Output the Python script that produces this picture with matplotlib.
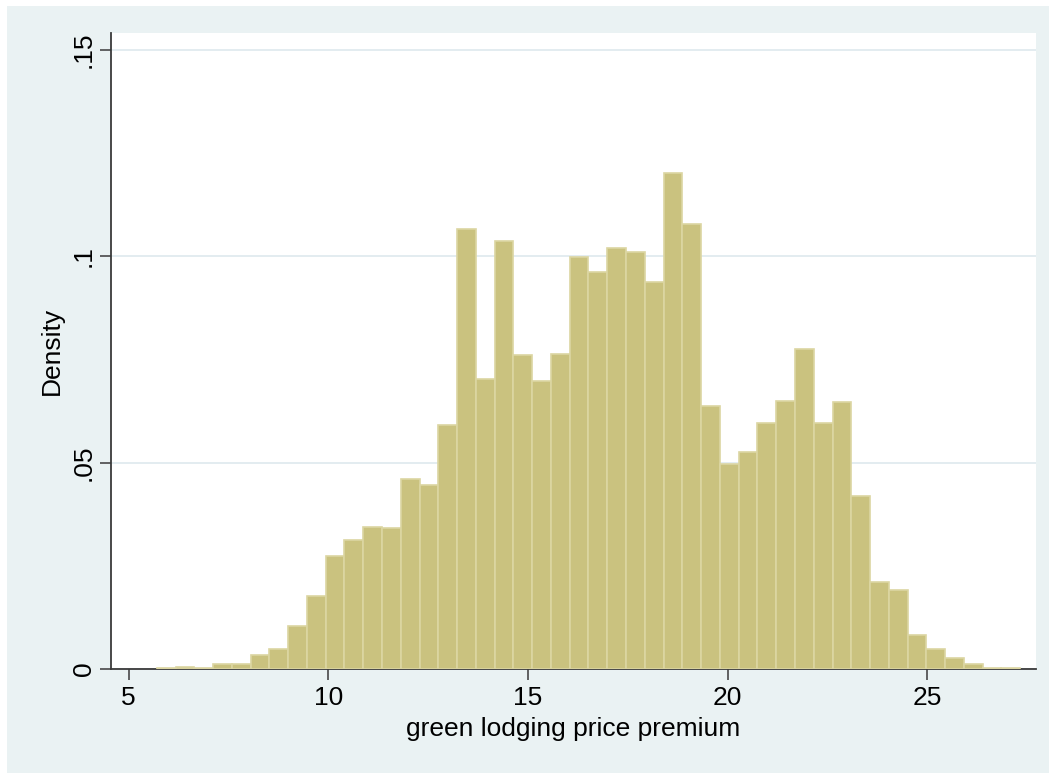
import numpy as np
import matplotlib.pyplot as plt
from matplotlib.patches import Rectangle

plt.rcParams['font.family'] = ['Liberation Sans', 'DejaVu Sans']

# histogram bins
bin_start = 5.705
bin_width = 0.47
density = [0.0002, 0.0004, 0.0003, 0.0011, 0.0011, 0.0034, 0.0048, 0.0103,
           0.0178, 0.0275, 0.0312, 0.0344, 0.0341, 0.0460, 0.0445, 0.0590,
           0.1067, 0.0702, 0.1037, 0.0761, 0.0697, 0.0764, 0.0998, 0.0961,
           0.1020, 0.1011, 0.0938, 0.1201, 0.1079, 0.0638, 0.0497, 0.0525,
           0.0595, 0.0649, 0.0776, 0.0597, 0.0646, 0.0418, 0.0212, 0.0192,
           0.0082, 0.0048, 0.0027, 0.0012, 0.0003, 0.0003]
x_ticks = [5, 10, 15, 20, 25]
y_ticks = [0, 0.05, 0.1, 0.15]
y_labels = ['0', '.05', '.1', '.15']

edges = bin_start + bin_width * np.arange(len(density) + 1)

fig = plt.figure(figsize=(10.49, 7.73), dpi=100)
fig.patch.set_facecolor('white')

# graph region background (thin white margin top/left like the original)
bg = fig.add_axes([0, 0, 1, 1], zorder=-1)
bg.axis('off')
bg.add_patch(Rectangle((7/1049, -0.05), 1.1, 1.05 - 6/773, transform=bg.transAxes,
                       facecolor='#EAF2F3', edgecolor='none', clip_on=False))

ax = fig.add_axes([111/1049, 1 - 669/773, (1036-111)/1049, (669-33)/773])
ax.set_facecolor('white')

ax.bar(edges[:-1], density, width=bin_width, align='edge',
       color='#CAC27F', edgecolor='#DCD6A2', linewidth=1.2, zorder=3)

ax.set_xlim(4.56, 27.72)
ax.set_ylim(0, 0.1541)
ax.set_xticks(x_ticks)
ax.set_yticks(y_ticks)
ax.set_yticklabels(y_labels, rotation=90, va='center')
ax.grid(axis='y', color='#E3ECF0', linewidth=1.4, zorder=1)
ax.set_axisbelow(True)

for s in ['top', 'right']:
    ax.spines[s].set_visible(False)
for s in ['left', 'bottom']:
    ax.spines[s].set_color('#3A3A3A')
    ax.spines[s].set_linewidth(1.3)

ax.tick_params(axis='both', direction='out', length=8, width=1.1,
               color='#3A3A3A', labelsize=19)
ax.tick_params(axis='x', pad=4)
ax.tick_params(axis='y', pad=3)

ax.set_xlabel('green lodging price premium', fontsize=19, labelpad=5)
ax.set_ylabel('Density', fontsize=19, labelpad=6)

fig.savefig('out.png', dpi=100, facecolor=fig.get_facecolor())
